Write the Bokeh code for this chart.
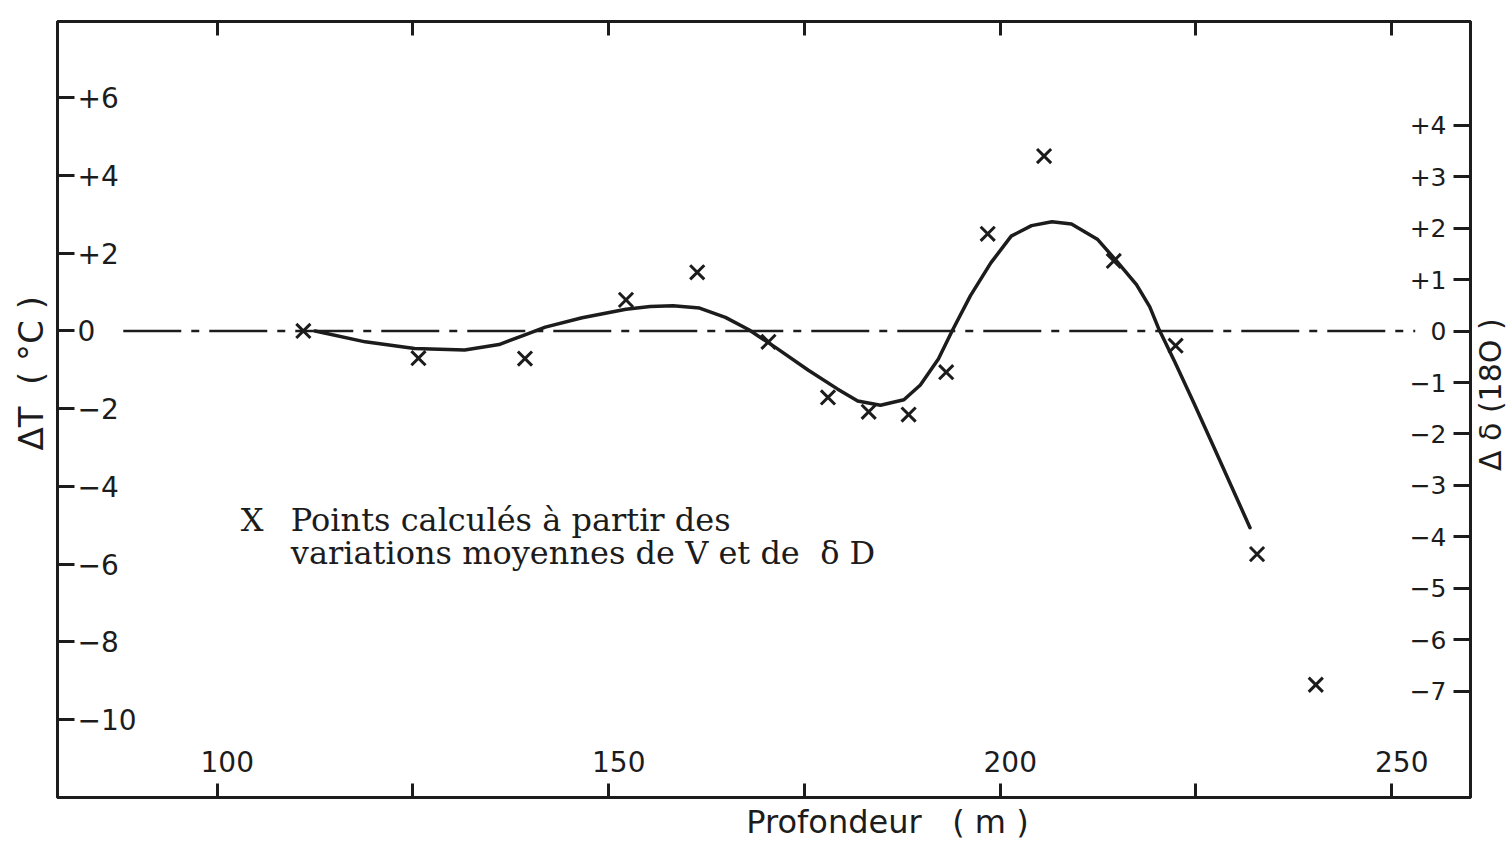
import math
from bokeh.plotting import figure
from bokeh.models import Range1d, LinearAxis, FixedTicker, Label, CustomJSTickFormatter
from bokeh.core.properties import value
from bokeh.embed import file_html
from bokeh.resources import INLINE

# ---------------- data ----------------
depth_pts = [111.0, 125.7, 139.3, 152.2, 161.3, 170.4, 178.0, 183.2, 188.3,
             193.1, 198.4, 205.6, 214.5, 222.4, 232.8, 240.3]
dT_pts = [0.0, -0.70, -0.71, 0.80, 1.51, -0.28, -1.71, -2.08, -2.15,
          -1.06, 2.50, 4.50, 1.80, -0.38, -5.74, -9.10]

curve_depth = [112.5, 118.9, 125.2, 131.6, 136.0, 139.3, 141.9, 146.6, 152.2,
               155.3, 158.2, 161.6, 164.9, 167.9, 171.2, 175.5, 179.2, 181.8,
               184.7, 187.7, 189.8, 192.1, 193.9, 196.2, 198.8, 201.4, 204.0,
               206.6, 209.1, 212.4, 214.9, 217.4, 219.1, 220.3, 222.3, 224.7,
               227.2, 231.9]
curve_dT = [0.0, -0.28, -0.45, -0.49, -0.35, -0.10, 0.10, 0.34, 0.56,
            0.63, 0.65, 0.59, 0.35, 0.03, -0.41, -1.01, -1.49, -1.80,
            -1.91, -1.77, -1.39, -0.72, 0.02, 0.91, 1.75, 2.44, 2.71,
            2.81, 2.75, 2.36, 1.79, 1.19, 0.62, 0.03, -0.80, -1.84,
            -2.95, -5.06]

zero_depth = [88.0, 253.0]
zero_val = [0.0, 0.0]

x_ticks = [100, 125, 150, 175, 200, 225, 250]
x_label_vals = [100, 150, 200, 250]
x_labels = ["100", "150", "200", "250"]

dT_ticks = [6, 4, 2, 0, -2, -4, -6, -8, -10]
dT_labels = ["+6", "+4", "+2", "0", "\u22122", "\u22124", "\u22126", "\u22128", "\u221210"]

d18_ticks = [4, 3, 2, 1, 0, -1, -2, -3, -4, -5, -6, -7]
d18_labels = ["+4", "+3", "+2", "+1", "0", "\u22121", "\u22122", "\u22123",
              "\u22124", "\u22125", "\u22126", "\u22127"]

X_START, X_END = 79.6, 260.06
Y_START, Y_END = -12.0, 7.96
D_START, D_END = -9.07, 6.02

INK = "#1c1c1c"
SANS = "DejaVu Sans"
SERIF = "DejaVu Serif"

# ---------------- figure ----------------
p = figure(width=1512, height=842,
           x_range=Range1d(X_START, X_END), y_range=Range1d(Y_START, Y_END),
           output_backend="svg", toolbar_location=None,
           min_border_left=57, min_border_right=42, min_border_top=21,
           min_border_bottom=45)
p.extra_y_ranges = {"d18": Range1d(D_START, D_END)}
p.grid.visible = False
p.outline_line_color = INK
p.outline_line_width = 3
p.background_fill_color = "white"
p.border_fill_color = "white"

blank = CustomJSTickFormatter(code="return ''")


def style_axis(ax, tick_len):
    ax.axis_line_color = INK
    ax.axis_line_width = 3
    ax.major_tick_line_color = INK
    ax.major_tick_line_width = 3
    ax.major_tick_in = tick_len
    ax.major_tick_out = 0
    ax.minor_tick_line_color = None
    ax.formatter = blank
    ax.major_label_text_font_size = "0px"
    ax.major_label_standoff = 0


# tick-bearing axes
bottom = p.below[0]
bottom.ticker = FixedTicker(ticks=x_ticks)
style_axis(bottom, 14)

left = p.left[0]
left.ticker = FixedTicker(ticks=dT_ticks)
style_axis(left, 17)

top = LinearAxis(ticker=FixedTicker(ticks=x_ticks))
style_axis(top, 14)
p.add_layout(top, "above")

right = LinearAxis(y_range_name="d18", ticker=FixedTicker(ticks=d18_ticks))
style_axis(right, 17)
p.add_layout(right, "right")

# axis titles, placed in the side panels
p.add_layout(Label(x=185.6, y=-12.62, text="Profondeur\u00a0\u00a0 ( m )",
                   text_align="center", text_baseline="middle",
                   text_font=SANS, text_font_size="32px", text_color=INK), "below")
p.add_layout(Label(x=76.2, y=-1.09, text="\u0394T\u00a0 ( \u00b0C )",
                   angle=math.pi / 2, text_align="center", text_baseline="middle",
                   text_font=SANS, text_font_size="34px", text_color=INK), "left")
p.add_layout(Label(x=X_END + 2.5, y=-1.64, text="\u0394 \u03b4 (18O )",
                   angle=math.pi / 2, text_align="center", text_baseline="middle",
                   text_font=SANS, text_font_size="30px", text_color=INK), "right")

# ---------------- marks ----------------
p.line(zero_depth, zero_val, line_color=INK, line_width=2.5, line_dash="58 10 8 10")
p.line(curve_depth, curve_dT, line_color=INK, line_width=3.5,
       line_join="round", line_cap="round")
p.scatter(depth_pts, dT_pts, marker="x", size=20, line_width=3, line_color=INK)

# tick labels drawn inside the frame
p.text(x=[X_START] * len(dT_ticks), y=dT_ticks, text=dT_labels, x_offset=20,
       text_align="left", text_baseline="middle", text_font=value(SANS),
       text_font_size="28px", text_color=INK)
p.text(x=[X_END] * len(d18_ticks), y=d18_ticks, text=d18_labels, x_offset=-24,
       text_align="right", text_baseline="middle", text_font=value(SANS),
       text_font_size="25px", text_color=INK, y_range_name="d18")
p.text(x=x_label_vals, y=[Y_START] * len(x_label_vals), text=x_labels,
       x_offset=10, y_offset=-26, text_align="center", text_baseline="bottom",
       text_font=value(SANS), text_font_size="28px", text_color=INK)

# legend note
p.add_layout(Label(x=103.0, y=-4.85, text="X", text_font=SERIF, text_font_size="32px",
                   text_baseline="middle", text_color=INK))
p.add_layout(Label(x=109.4, y=-4.85, text="Points calcul\u00e9s \u00e0 partir des",
                   text_font=SERIF, text_font_size="32px", text_baseline="middle",
                   text_color=INK))
p.add_layout(Label(x=109.4, y=-5.70,
                   text="variations moyennes de V et de \u00a0\u03b4 D",
                   text_font=SERIF, text_font_size="32px", text_baseline="middle",
                   text_color=INK))

open("out.html", "w").write(file_html(p, INLINE))
